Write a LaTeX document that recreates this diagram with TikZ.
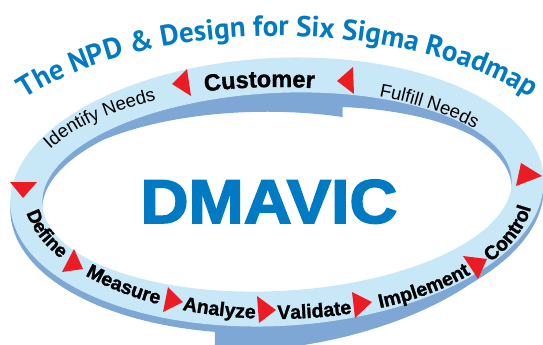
\documentclass[tikz,border=0pt]{standalone}
\usepackage{fontspec}
\setmainfont{Liberation Sans}
\newfontfamily\heavy{Liberation Sans}[BoldFeatures={FakeBold=1.3}]
\newfontfamily\bigfont{Liberation Sans}[BoldFeatures={FakeBold=2.5}]
\newfontfamily\ttlfont{PT Sans}
\usetikzlibrary{decorations.text}
\definecolor{ringlight}{RGB}{200,232,248}
\definecolor{ringdark}{RGB}{127,167,214}
\definecolor{titleblue}{RGB}{0,122,194}
\definecolor{arrowred}{RGB}{237,28,36}
\begin{document}
\begin{tikzpicture}[x=1pt,y=-1pt,
  declare function={
    rx(\p,\q,\s)=277+\p*cos(\s)*cos(3)+\q*sin(\s)*sin(3);
    ry(\p,\q,\s)=192-\p*cos(\s)*sin(3)+\q*sin(\s)*cos(3);
    dA(\s)=max(7,23-0.25*(287.5-\s));
    dB(\s)=max(7,27-0.33*(105-\s),13-0.15*(\s+72.5));
  },
  redtri/.style={fill=arrowred},
  ringtext/.style={decorate, decoration={text along path, text={#1}}},
]
\useasboundingbox (0,0) rectangle (543,345);

% dark underside of the ribbon
\fill[ringdark, even odd rule]
  plot[domain=105:287.5, samples=90] ({rx(267,134,\x)},{ry(267,134,\x)+dA(\x)})
  -- plot[domain=-72.5:105, samples=90] ({rx(267,134,\x)},{ry(267,134,\x)+dB(\x)}) -- cycle
  plot[domain=105:287.5, samples=90] ({rx(235,99,\x)},{ry(235,99,\x)+dA(\x)})
  -- plot[domain=-72.5:105, samples=90] ({rx(235,99,\x)},{ry(235,99,\x)+dB(\x)}) -- cycle;

% light top of the ribbon
\fill[ringlight, even odd rule]
  plot[domain=0:360, samples=180] ({rx(267,134,\x)},{ry(267,134,\x)}) -- cycle
  plot[domain=0:360, samples=180] ({rx(235,99,\x)},{ry(235,99,\x)}) -- cycle;

% title
\path[decorate, decoration={text along path, text align=center, text color=titleblue,
  text={|\ttlfont\bfseries\fontsize{29}{31}\selectfont|The NPD {\&} Design for Six Sigma Roadmap}}]
  plot[domain=185:355, samples=140] ({278+323*cos(\x)},{200+164*sin(\x)});

% top labels (baseline on the inner side, read left to right)
\path[ringtext={|\fontsize{18.5}{20}\selectfont|Identify Needs}]
  plot[domain=203.8:283.8, samples=80] ({277+248*cos(\x)},{192+105*sin(\x)});
\path[ringtext={|\heavy\bfseries\fontsize{23.5}{24}\selectfont|Customer}]
  plot[domain=253.1:333.1, samples=80] ({277+248*cos(\x)},{192+105*sin(\x)});
\path[ringtext={|\fontsize{18.5}{20}\selectfont|Fulfill Needs}]
  plot[domain=294.3:374.3, samples=80] ({277+248*cos(\x)},{192+105*sin(\x)});

% bottom labels (baseline on the outer side, read left side -> bottom -> right side)
\path[ringtext={|\heavy\bfseries\fontsize{19}{20}\selectfont|Define}]
  plot[domain=170.5:90.5, samples=80] ({277+254*cos(\x)},{192+127*sin(\x)});
\path[ringtext={|\heavy\bfseries\fontsize{19.5}{20}\selectfont|Measure}]
  plot[domain=139:59, samples=80] ({277+254*cos(\x)},{192+127*sin(\x)});
\path[ringtext={|\heavy\bfseries\fontsize{19.5}{20}\selectfont|Analyze}]
  plot[domain=111.9:31.9, samples=80] ({277+254*cos(\x)},{192+127*sin(\x)});
\path[ringtext={|\heavy\bfseries\fontsize{19.5}{20}\selectfont|Validate}]
  plot[domain=89.9:9.9, samples=80] ({277+254*cos(\x)},{192+127*sin(\x)});
\path[ringtext={|\heavy\bfseries\fontsize{19.5}{20}\selectfont|Implement}]
  plot[domain=66.1:-13.9, samples=80] ({277+254*cos(\x)},{192+127*sin(\x)});
\path[ringtext={|\heavy\bfseries\fontsize{19.5}{20}\selectfont|Control}]
  plot[domain=33.5:-46.5, samples=80] ({277+256*cos(\x)},{192+127*sin(\x)});

% red arrow heads
\fill[redtri] (172,84) -- (187,69) -- (191,96) -- cycle;
\fill[redtri] (337,81) -- (353,67) -- (354,94) -- cycle;
\fill[redtri] (10,182) -- (37,182) -- (23,198) -- cycle;
\fill[redtri] (74,249) -- (83,269) -- (62,272) -- cycle;
\fill[redtri] (168,287) -- (183,302) -- (163,312) -- cycle;
\fill[redtri] (257,296) -- (276,310) -- (259,323) -- cycle;
\fill[redtri] (352,292) -- (372,302) -- (355,318) -- cycle;
\fill[redtri] (463,256) -- (487,259) -- (478,279) -- cycle;
\fill[redtri] (521,163) -- (542,176) -- (516,186) -- cycle;

% centre word
\node[text=titleblue, font=\bigfont\bfseries\fontsize{62}{62}\selectfont, xscale=1.07, inner sep=0pt, anchor=base]
  (dmavic) at (269,223) {DMAVIC};
\end{tikzpicture}
\end{document}
